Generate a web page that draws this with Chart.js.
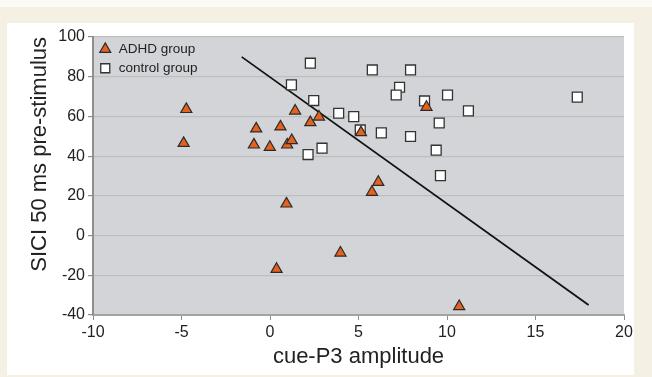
<!DOCTYPE html>
<html>
<head>
<meta charset="utf-8">
<script src="https://cdn.jsdelivr.net/npm/chart.js@4/dist/chart.umd.min.js"></script>
<style>
  body { margin: 0; background: #f4f1e4; }
  #top { position: absolute; left: 0; top: 0; width: 652px; height: 7px; background: #fbfaf5; }
  #panel { position: absolute; left: 7px; top: 23px; width: 627px; height: 352px; background: #ffffff; }
  #chart { position: absolute; left: 0; top: 0; }
</style>
</head>
<body>
<div id="top"></div>
<div id="panel"></div>
<canvas id="chart" width="652" height="377"></canvas>
<script>
// values
const adhdX = [-4.73, -4.88, -0.78, -0.91, -0.01, 0.59, 0.97, 1.23, 1.42, 2.28, 2.77, 5.14, 8.84, 6.12, 5.76, 10.69, 0.93, 3.98, 0.37];
const adhdY = [63.6, 46.5, 53.8, 45.7, 44.5, 54.8, 45.7, 47.9, 62.8, 57.0, 59.8, 51.9, 64.7, 26.9, 21.9, -35.7, 16.0, -8.7, -16.9];

const ctrlX = [2.28, 1.21, 2.47, 3.88, 4.73, 5.10, 2.15, 2.94, 5.78, 7.94, 7.32, 7.13, 8.73, 10.03, 11.21, 17.36, 9.56, 6.29, 7.94, 9.39, 9.63];
const ctrlY = [86.8, 75.9, 68.0, 61.6, 59.9, 53.2, 40.8, 44.0, 83.4, 83.4, 74.7, 70.8, 67.8, 70.8, 62.8, 69.7, 56.7, 51.7, 49.9, 43.0, 30.2];

// regression line end points
const fitX = [-1.6, 18.0];
const fitY = [90, -35];

const xTicks = [-10, -5, 0, 5, 10, 15, 20];
const yTicks = [-40, -20, 0, 20, 40, 60, 80, 100];

const toPoints = (xs, ys) => xs.map((x, i) => ({ x: x, y: ys[i] }));

const fontFamily = "'Liberation Sans', Arial, sans-serif";

// grey plot background
const plotBg = {
  id: "plotBg",
  beforeDraw(chart) {
    const { ctx, chartArea: a } = chart;
    ctx.save();
    ctx.fillStyle = "#d3d4d8";
    ctx.fillRect(a.left, a.top, a.right - a.left, a.bottom - a.top);
    ctx.restore();
  }
};

// vertical chartArea legend gets top reset to 0, put it back inside the plot
const legendInside = {
  id: "legendInside",
  afterLayout(chart) {
    const lg = chart.legend;
    if (!lg) return;
    const h = lg.height;
    lg.top = chart.chartArea.top;
    lg.bottom = lg.top + h;
  }
};

new Chart(document.getElementById("chart"), {
  type: "scatter",
  data: {
    datasets: [
      {
        label: "ADHD group",
        data: toPoints(adhdX, adhdY),
        pointStyle: "triangle",
        pointRadius: 6.4,
        pointHoverRadius: 6.4,
        backgroundColor: "#e4621e",
        borderColor: "#2b2b2b",
        borderWidth: 1.2,
        order: 0
      },
      {
        label: "control group",
        data: toPoints(ctrlX, ctrlY),
        pointStyle: "rect",
        pointRadius: 7,
        pointHoverRadius: 7,
        backgroundColor: "#ffffff",
        borderColor: "#333333",
        borderWidth: 1.3,
        order: 1
      },
      {
        label: "fit",
        type: "line",
        data: toPoints(fitX, fitY),
        showLine: true,
        pointRadius: 0,
        borderColor: "#111111",
        borderWidth: 1.8,
        fill: false,
        order: 2
      }
    ]
  },
  options: {
    responsive: false,
    animation: false,
    layout: { padding: { left: 0, top: 37, right: 28, bottom: 0 } },
    plugins: {
      tooltip: { enabled: false },
      legend: {
        position: "chartArea",
        align: "start",
        labels: {
          usePointStyle: true,
          boxHeight: 9,
          padding: 5.5,
          color: "#222222",
          font: { family: fontFamily, size: 13.5 },
          filter: item => item.datasetIndex < 2
        }
      }
    },
    scales: {
      x: {
        type: "linear",
        min: -10,
        max: 20,
        afterBuildTicks: s => { s.ticks = xTicks.map(v => ({ value: v })); },
        afterFit: s => { s.height = 62; },
        grid: { drawOnChartArea: false, drawTicks: true, tickLength: 5, tickColor: "#8c8c8c" },
        border: { color: "#a3a3a3", width: 2 },
        ticks: { color: "#222222", padding: 3, font: { family: fontFamily, size: 16 } },
        title: {
          display: true,
          text: "cue-P3 amplitude",
          color: "#222222",
          padding: { top: 0, bottom: 7 },
          font: { family: fontFamily, size: 22 }
        }
      },
      y: {
        type: "linear",
        min: -40,
        max: 100,
        afterBuildTicks: s => { s.ticks = yTicks.map(v => ({ value: v })); },
        afterFit: s => { s.width = 93; },
        grid: { color: "#bcbec1", lineWidth: 1.2, tickLength: 5, tickColor: "#8c8c8c" },
        border: { color: "#8f8f8f", width: 2 },
        ticks: { color: "#222222", padding: 3, font: { family: fontFamily, size: 16 } },
        title: {
          display: true,
          text: "SICI 50 ms pre-stimulus",
          align: "end",
          color: "#222222",
          padding: { top: 27, bottom: 0 },
          font: { family: fontFamily, size: 22 }
        }
      }
    }
  },
  plugins: [plotBg, legendInside]
});
</script>
</body>
</html>
